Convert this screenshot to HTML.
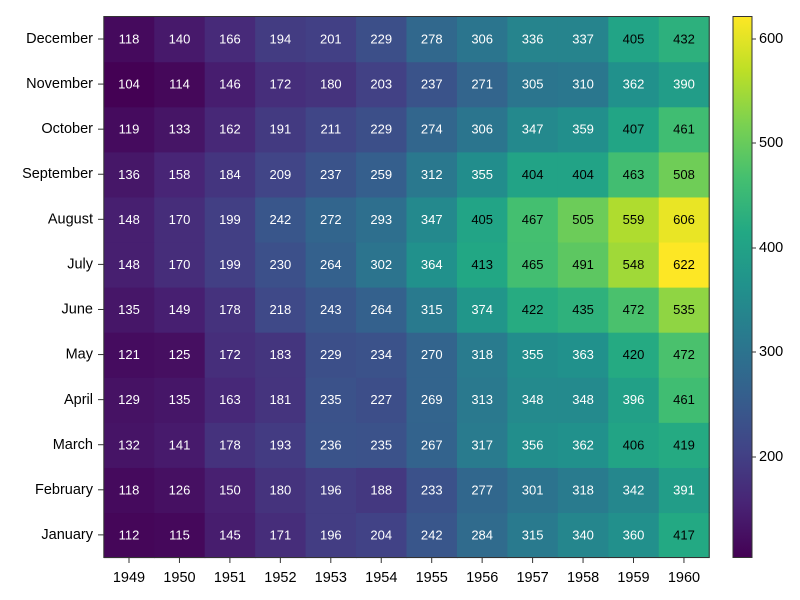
<!DOCTYPE html>
<html><head><meta charset="utf-8"><style>
body{margin:0;background:#fff}
svg{font-family:"Liberation Sans",sans-serif;display:block}
.c{font-size:13px;text-anchor:middle;dominant-baseline:central}
.t{font-size:14.5px;fill:#000}
</style></head><body>
<svg id="s" width="800" height="600" viewBox="0 0 800 600">
<defs><linearGradient id="vg" x1="0" y1="1" x2="0" y2="0">
<stop offset="0" stop-color="#440154"/><stop offset="0.1" stop-color="#482475"/><stop offset="0.2" stop-color="#414487"/><stop offset="0.3" stop-color="#355f8d"/><stop offset="0.4" stop-color="#2a788e"/><stop offset="0.5" stop-color="#21918c"/><stop offset="0.6" stop-color="#22a884"/><stop offset="0.7" stop-color="#44bf70"/><stop offset="0.8" stop-color="#7ad151"/><stop offset="0.9" stop-color="#bddf26"/><stop offset="1" stop-color="#fde725"/>
</linearGradient></defs>
<g id="cells"></g>
<g id="labels" class="c"></g>
<rect x="103.8" y="16.5" width="605.4" height="541" fill="none" stroke="#333" stroke-width="1"/>
<g class="t" text-anchor="end" dominant-baseline="central">
<text x="93" y="39">December</text><text x="93" y="84">November</text><text x="93" y="129">October</text><text x="93" y="174">September</text><text x="93" y="219.5">August</text><text x="93" y="264.5">July</text><text x="93" y="309.5">June</text><text x="93" y="354.5">May</text><text x="93" y="400">April</text><text x="93" y="445">March</text><text x="93" y="490">February</text><text x="93" y="535">January</text>
</g>
<g class="t" text-anchor="middle">
<text x="129" y="582">1949</text><text x="179.5" y="582">1950</text><text x="230" y="582">1951</text><text x="280.4" y="582">1952</text><text x="330.8" y="582">1953</text><text x="381.3" y="582">1954</text><text x="431.7" y="582">1955</text><text x="482.2" y="582">1956</text><text x="532.6" y="582">1957</text><text x="583.1" y="582">1958</text><text x="633.5" y="582">1959</text><text x="684" y="582">1960</text>
</g>
<g id="ticks" stroke="#333"></g>
<rect x="733" y="16.5" width="19" height="541" fill="url(#vg)" stroke="#333" stroke-width="1"/>
<g class="t" dominant-baseline="central">
<text x="759" y="457">200</text><text x="759" y="352">300</text><text x="759" y="248">400</text><text x="759" y="143">500</text><text x="759" y="39">600</text>
</g>
<g id="lab">
<text>112 115 145 171 196 204 242 284 315 340 360 417</text>
<text>118 126 150 180 196 188 233 277 301 318 342 391</text>
<text>132 141 178 193 236 235 267 317 356 362 406 419</text>
<text>129 135 163 181 235 227 269 313 348 348 396 461</text>
<text>121 125 172 183 229 234 270 318 355 363 420 472</text>
<text>135 149 178 218 243 264 315 374 422 435 472 535</text>
<text>148 170 199 230 264 302 364 413 465 491 548 622</text>
<text>148 170 199 242 272 293 347 405 467 505 559 606</text>
<text>136 158 184 209 237 259 312 355 404 404 463 508</text>
<text>119 133 162 191 211 229 274 306 347 359 407 461</text>
<text>104 114 146 172 180 203 237 271 305 310 362 390</text>
<text>118 140 166 194 201 229 278 306 336 337 405 432</text>
</g>
</svg>
<script>
var V=[[68,1,84],[72,36,117],[65,68,135],[53,95,141],[42,120,142],[33,145,140],[34,168,132],[68,191,112],[122,209,81],[189,223,38],[253,231,37]];
function col(v){var t=(v-104)/(622-104)*10;var i=Math.min(9,Math.floor(t)),f=t-i;var a=V[i],b=V[i+1];return 'rgb('+a.map(function(x,k){return Math.round(x+(b[k]-x)*f)}).join(',')+')';}
var ns="http://www.w3.org/2000/svg",S=document.getElementById('s');
var lab=document.getElementById('lab'),rows=lab.querySelectorAll('text');
var cells=document.getElementById('cells'),L=document.getElementById('labels');
var cw=50.45,rh=45.08,x0=103.8,yb=557.5;
rows.forEach(function(r,ri){var vals=r.textContent.trim().split(/\s+/);
vals.forEach(function(s,ci){var v=+s;var R=document.createElementNS(ns,'rect');
R.setAttribute('x',x0+ci*cw);R.setAttribute('y',yb-(ri+1)*rh);R.setAttribute('width',cw+0.6);R.setAttribute('height',rh+0.6);R.setAttribute('fill',col(v));cells.appendChild(R);
var T=document.createElementNS(ns,'text');T.setAttribute('x',x0+ci*cw+cw/2);T.setAttribute('y',yb-(ri+0.5)*rh);T.setAttribute('fill',v>400?'#000':'#fff');T.textContent=s;L.appendChild(T);});});
lab.parentNode.removeChild(lab);
var tk=document.getElementById('ticks'),h='';
for(var i=0;i<12;i++){var x=129+i*50.45;h+='<line x1="'+x+'" y1="557.5" x2="'+x+'" y2="563"/>';var y=39+i*45.08;h+='<line x1="98" y1="'+y+'" x2="103.8" y2="'+y+'"/>';}
[457,352,248,143,39].forEach(function(y){h+='<line x1="752" y1="'+y+'" x2="756" y2="'+y+'"/>';});
tk.innerHTML=h;
</script>
</body></html>
